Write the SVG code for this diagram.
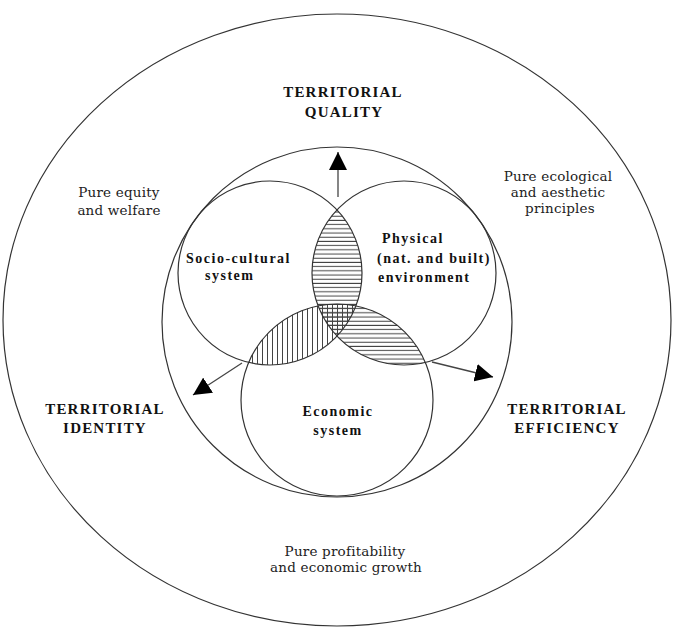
<svg xmlns="http://www.w3.org/2000/svg" width="673" height="628" viewBox="0 0 673 628">
<style>
.ring{fill:none;stroke:#333;stroke-width:1.2}
.title{font-family:"Liberation Serif",serif;font-weight:bold;font-size:15px;letter-spacing:1.2px;fill:#111;text-anchor:middle}
.lab{font-family:"Liberation Serif",serif;font-weight:bold;font-size:14px;letter-spacing:1.5px;fill:#111}
.note{font-family:"DejaVu Serif",serif;font-size:13.5px;letter-spacing:0.2px;fill:#222;text-anchor:middle}
.arr{stroke:#444;stroke-width:1.3;fill:none}
</style>
<defs>
<marker id="ah" markerUnits="userSpaceOnUse" markerWidth="19" markerHeight="18" refX="18" refY="9" orient="auto">
<path d="M0,0 L18,9 L0,18 Z" fill="#000"/>
</marker>
<pattern id="hor" patternUnits="userSpaceOnUse" width="8" height="4.2">
<line x1="0" y1="2" x2="8" y2="2" stroke="#444" stroke-width="1"/>
</pattern>
<pattern id="ver" patternUnits="userSpaceOnUse" width="5" height="8">
<line x1="2.5" y1="0" x2="2.5" y2="8" stroke="#444" stroke-width="1"/>
</pattern>
<clipPath id="cS"><circle cx="270" cy="273" r="92"/></clipPath>
<clipPath id="cP"><circle cx="404" cy="273" r="92"/></clipPath>
<clipPath id="cE"><circle cx="337" cy="400" r="96"/></clipPath>
</defs>

<g id="outer">
<ellipse class="ring" cx="337" cy="320" rx="334" ry="306"/>
</g>
<g id="territory">
<circle class="ring" cx="337" cy="322" r="175"/>
</g>

<g id="hatching">
<circle cx="404" cy="273" r="92" fill="url(#hor)" clip-path="url(#cS)"/>
<circle cx="337" cy="400" r="96" fill="url(#hor)" clip-path="url(#cP)"/>
<circle cx="337" cy="400" r="96" fill="url(#ver)" clip-path="url(#cS)"/>
</g>

<g id="socio">
<circle class="ring" cx="270" cy="273" r="92"/>
<text class="lab" x="186" y="263">Socio-cultural</text>
<text class="lab" x="205" y="280">system</text>
</g>
<g id="physical">
<circle class="ring" cx="404" cy="273" r="92"/>
<text class="lab" x="382" y="243">Physical</text>
<text class="lab" x="377" y="263">(nat. and built)</text>
<text class="lab" x="378" y="282">environment</text>
</g>
<g id="economic">
<circle class="ring" cx="337" cy="400" r="96"/>
<text class="lab" x="338" y="416" text-anchor="middle">Economic</text>
<text class="lab" x="338" y="435" text-anchor="middle">system</text>
</g>

<g id="connectors">
<line class="arr" x1="338" y1="197" x2="338" y2="152" marker-end="url(#ah)"/>
<line class="arr" x1="242" y1="363" x2="193" y2="395" marker-end="url(#ah)"/>
<line class="arr" x1="432" y1="362" x2="493" y2="377" marker-end="url(#ah)"/>
</g>

<g id="quality">
<text class="title" x="343" y="97">TERRITORIAL</text>
<text class="title" x="344" y="117">QUALITY</text>
</g>
<g id="identity">
<text class="title" x="105" y="414">TERRITORIAL</text>
<text class="title" x="105" y="433">IDENTITY</text>
</g>
<g id="efficiency">
<text class="title" x="567" y="414">TERRITORIAL</text>
<text class="title" x="567" y="433">EFFICIENCY</text>
</g>
<g id="equity">
<text class="note" x="119" y="197">Pure equity</text>
<text class="note" x="119" y="215">and welfare</text>
</g>
<g id="ecological">
<text class="note" x="558" y="181">Pure ecological</text>
<text class="note" x="558" y="197">and aesthetic</text>
<text class="note" x="560" y="213">principles</text>
</g>
<g id="profit">
<text class="note" x="345" y="556">Pure profitability</text>
<text class="note" x="346" y="572">and economic growth</text>
</g>
</svg>
